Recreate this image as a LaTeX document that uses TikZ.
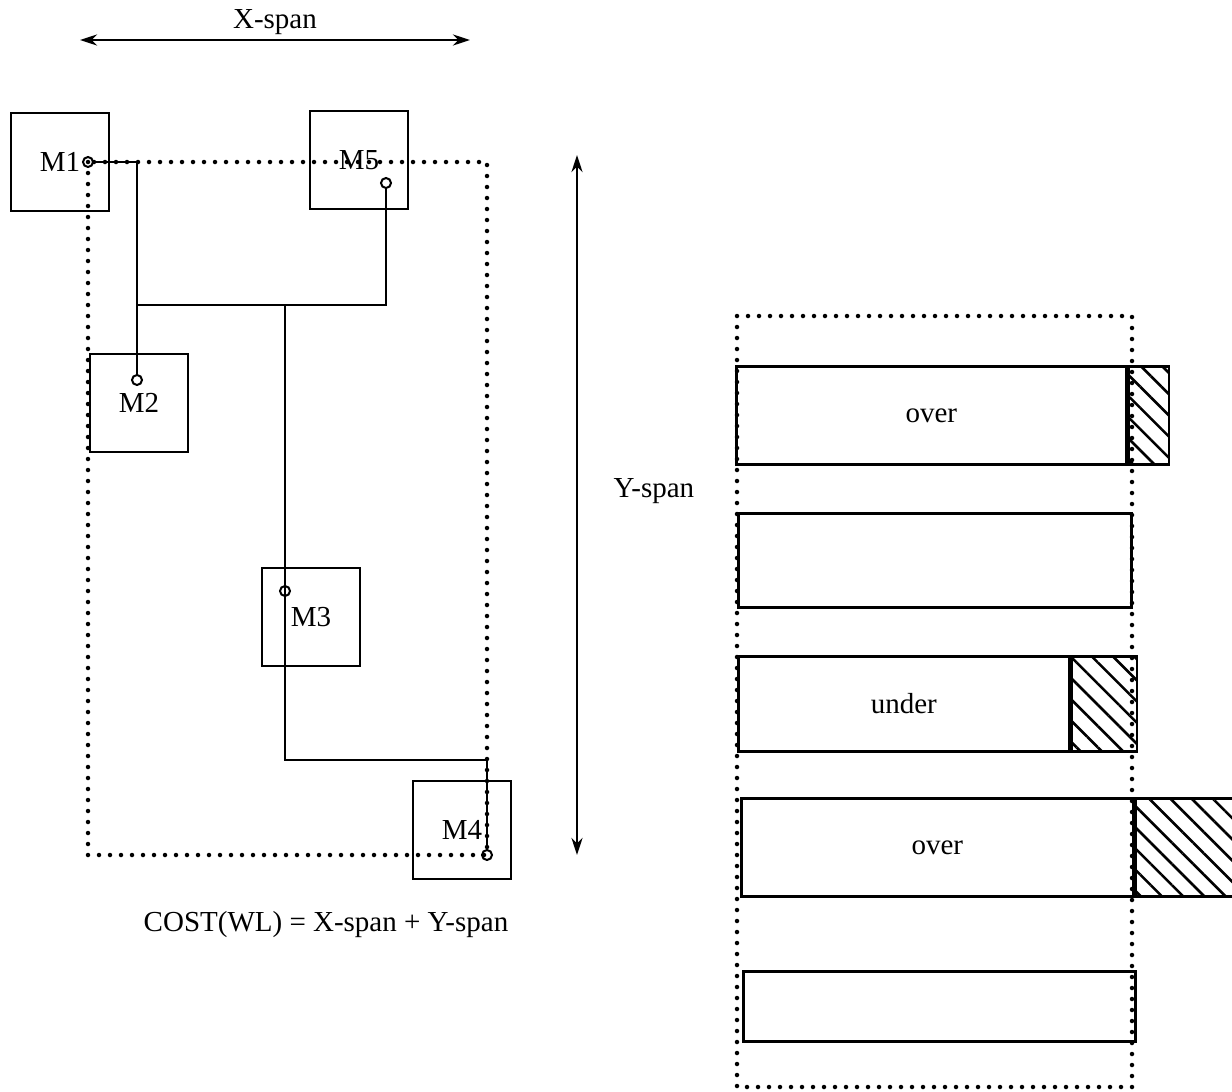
\documentclass[tikz,border=0pt]{standalone}
\usepackage{fontspec}
\setmainfont{Liberation Serif}
\usetikzlibrary{arrows.meta,patterns.meta,positioning}

\tikzset{
  module/.style={draw, line width=2.7pt, minimum width=98pt, minimum height=98pt, inner sep=0pt},
  pin/.style={draw, circle, line width=2pt, minimum size=10pt, inner sep=0pt},
  wire/.style={line width=2.3pt},
  spanbox/.style={line width=4.5pt, line cap=round, dash pattern=on 0pt off 11pt},
  span/.style={line width=2.6pt, {Stealth[length=17pt,width=11pt]}-{Stealth[length=17pt,width=11pt]}},
  row/.style={draw, line width=2.7pt, inner sep=0pt, anchor=north west},
  hatch/.style={row, pattern={Lines[angle=-45,distance=15pt,line width=2.6pt]}},
}

\begin{document}
\begin{tikzpicture}[x=1pt, y=-1pt, font=\fontsize{29}{33}\selectfont]
    \useasboundingbox (0,0) rectangle (1232,1092);

    % placement
    \node[module] (M1) at (60,162) {M1};
    \node[module] (M5) at (359,160) {M5};
    \node[module] (M2) at (139,403) {M2};
    \node[module] (M3) at (311,617) {M3};
    \node[module] (M4) at (462,830) {M4};

    \node[pin] (p1) at (88,162) {};
    \node[pin] (p5) at (386,183) {};
    \node[pin] (p2) at (137,380) {};
    \node[pin] (p3) at (285,591) {};
    \node[pin] (p4) at (487,855) {};

    \draw[spanbox] (p1.center) rectangle (p4.center);

    \coordinate (jt) at (285,305);
    \coordinate (jb) at (285,760);
    \draw[wire] (p1) -| (p2);
    \draw[wire] (p2 |- jt) -| (p5);
    \draw[wire] (jt) -- (p3.center) -- (jb) -| (p4);

    \coordinate (x-left) at (80,40);
    \coordinate (x-right) at (470,40);
    \draw[span] (x-left) -- node[above=1pt] (xlab) {X-span} (x-right);

    \coordinate (y-top) at (577,155);
    \coordinate (y-bot) at (577,855);
    \draw[span] (y-top) -- node[pos=0.48, right=32pt] (ylab) {Y-span} (y-bot);

    \node (cost) at (326,925) {COST(WL) = X-span + Y-span};

    % rows
    \draw[spanbox] (737,316) rectangle (1132,1087);

    \node[row, minimum width=390pt, minimum height=98pt] (r1) at (735,365) {over};
    \node[hatch, minimum width=40pt, minimum height=98pt] (h1) at (r1.north east) {};

    \node[row, minimum width=393pt, minimum height=94pt] (r2) at (737,512) {};

    \node[row, minimum width=331pt, minimum height=95pt] (r3) at (737,655) {under};
    \node[hatch, minimum width=65pt, minimum height=95pt] (h3) at (r3.north east) {};

    \node[row, minimum width=392pt, minimum height=98pt] (r4) at (740,797) {over};
    \node[hatch, minimum width=98pt, minimum height=98pt] (h4) at (r4.north east) {};

    \node[row, minimum width=392pt, minimum height=70pt] (r5) at (742,970) {};
\end{tikzpicture}
\end{document}
